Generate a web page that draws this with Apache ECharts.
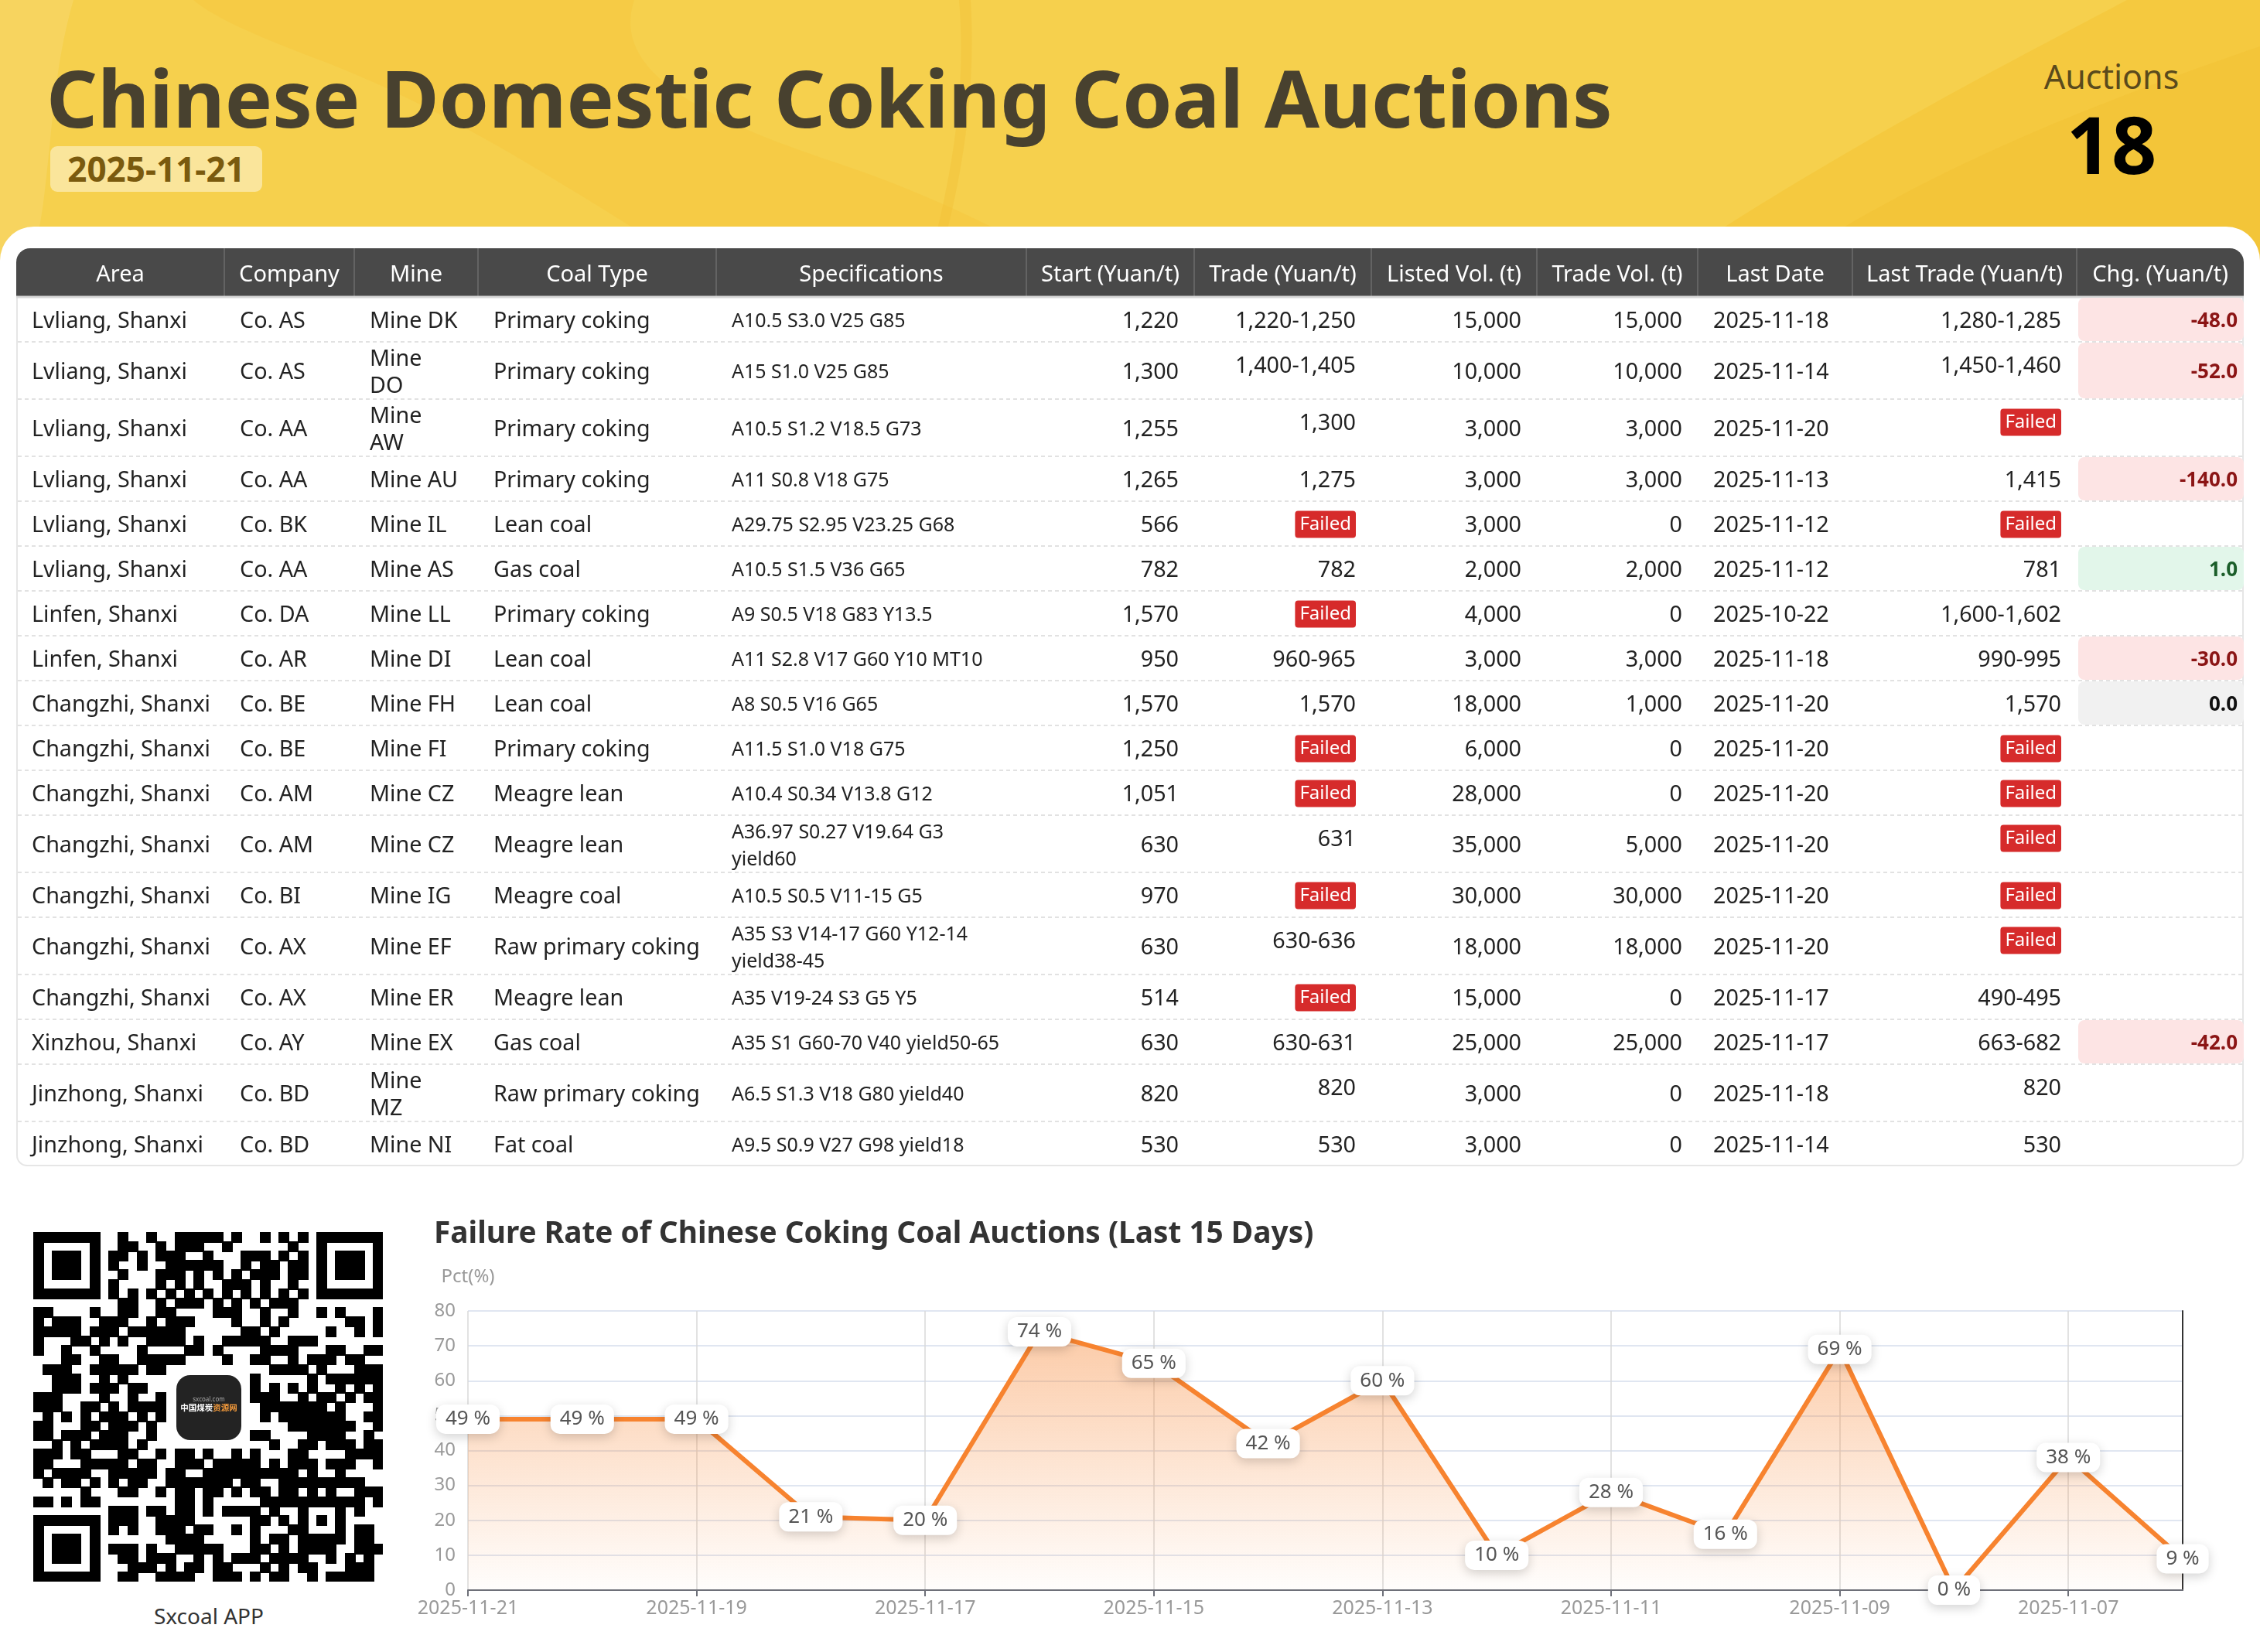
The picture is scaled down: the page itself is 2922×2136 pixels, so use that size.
<!DOCTYPE html>
<html>
<head>
<meta charset="utf-8">
<script src="https://cdn.jsdelivr.net/npm/echarts@6/dist/echarts.min.js"></script>
<style>
html,body{margin:0;padding:0;background:#fff;}
#page{position:relative;width:2922px;height:2136px;overflow:hidden;background:#fff;font-family:'Noto Sans','Noto Sans CJK SC',sans-serif;}
#hdr{position:absolute;left:0;top:0;width:2922px;height:345px;background:#F5C93F;overflow:hidden;}
#hdr svg{position:absolute;left:0;top:0;}
#card{position:absolute;left:0;top:293px;width:2922px;height:1843px;background:#fff;border-radius:44px 44px 0 0;}
#title{position:absolute;left:60px;top:74px;font-size:103px;font-weight:700;color:#48412F;line-height:103px;white-space:nowrap;}
#date{position:absolute;left:65px;top:189px;width:274px;height:59px;border-radius:9px;background:#FAE59B;color:#7A5A0E;font-size:44px;font-weight:700;line-height:59px;text-align:center;}
#auc{position:absolute;left:2580px;width:300px;top:77px;text-align:center;font-size:43px;color:#5A4A1C;line-height:43px;}
#cnt{position:absolute;left:2580px;width:300px;top:135px;text-align:center;font-size:102px;font-weight:700;color:#000;line-height:102px;}
#frame{position:absolute;left:21px;top:321px;width:2880px;height:1187px;box-sizing:border-box;border:2px solid #e6e6e6;border-radius:20px 20px 14px 14px;}
#qr{position:absolute;left:43px;top:1593px;}
#logo{position:absolute;left:228px;top:1778px;width:84px;height:84px;border-radius:18px;background:#232323;color:#fff;text-align:center;}
#logo .s{position:absolute;left:0;width:84px;top:26px;font-size:8px;line-height:9px;color:#aaa;}
#logo .t{position:absolute;left:0;width:84px;top:36px;font-size:10.5px;line-height:12px;font-weight:700;white-space:nowrap;font-family:'Noto Sans CJK SC',sans-serif;}
#cap{position:absolute;left:120px;width:300px;top:2075px;text-align:center;font-size:28px;line-height:28px;color:#333;}
#chart{position:absolute;left:0;top:0;width:2922px;height:2136px;}
</style>
</head>
<body>
<div id="page">
  <div id="hdr">
    <svg width="2922" height="345" viewBox="0 0 2922 345">
      <path d="M0,0 L2750,0 C2600,80 2400,180 2150,345 L0,345 Z" fill="#F6D04D"/>
      <path d="M0,0 L95,0 C60,120 70,230 40,345 L0,345 Z" fill="rgba(255,255,255,0.10)"/>
      <path d="M250,0 L820,0 C790,90 900,150 1080,210 C1200,250 1300,300 1380,345 L900,345 C760,260 600,150 420,80 C340,50 280,25 250,0 Z" fill="rgba(245,195,55,0.35)"/>
      <path d="M1240,0 C1250,120 1230,230 1200,345 L1212,345 C1245,230 1262,120 1255,0 Z" fill="rgba(240,190,50,0.35)"/>
      <path d="M2300,345 C2450,250 2600,170 2922,60 L2922,345 Z" fill="rgba(240,190,45,0.35)"/>
    </svg>
    <div id="title">Chinese Domestic Coking Coal Auctions</div>
    <div id="date">2025-11-21</div>
    <div id="auc">Auctions</div>
    <div id="cnt">18</div>
  </div>
  <div id="card"></div>
  <div id="frame"></div>
  <canvas id="qr" width="452" height="452"></canvas>
  <div id="logo"><div class="s">sxcoal.com</div><div class="t">中国煤炭<span style="color:#F39A3B">资源网</span></div></div>
  <div id="cap">Sxcoal APP</div>
  <div id="chart"></div>
</div>
<script>
// ---------------- DATA ----------------
const headers = ["Area","Company","Mine","Coal Type","Specifications","Start (Yuan/t)","Trade (Yuan/t)","Listed Vol. (t)","Trade Vol. (t)","Last Date","Last Trade (Yuan/t)","Chg. (Yuan/t)"];
const areas = ["Lvliang, Shanxi","Lvliang, Shanxi","Lvliang, Shanxi","Lvliang, Shanxi","Lvliang, Shanxi","Lvliang, Shanxi","Linfen, Shanxi","Linfen, Shanxi","Changzhi, Shanxi","Changzhi, Shanxi","Changzhi, Shanxi","Changzhi, Shanxi","Changzhi, Shanxi","Changzhi, Shanxi","Changzhi, Shanxi","Xinzhou, Shanxi","Jinzhong, Shanxi","Jinzhong, Shanxi"];
const companies = ["Co. AS","Co. AS","Co. AA","Co. AA","Co. BK","Co. AA","Co. DA","Co. AR","Co. BE","Co. BE","Co. AM","Co. AM","Co. BI","Co. AX","Co. AX","Co. AY","Co. BD","Co. BD"];
const mines = ["Mine DK","Mine DO","Mine AW","Mine AU","Mine IL","Mine AS","Mine LL","Mine DI","Mine FH","Mine FI","Mine CZ","Mine CZ","Mine IG","Mine EF","Mine ER","Mine EX","Mine MZ","Mine NI"];
const coalTypes = ["Primary coking","Primary coking","Primary coking","Primary coking","Lean coal","Gas coal","Primary coking","Lean coal","Lean coal","Primary coking","Meagre lean","Meagre lean","Meagre coal","Raw primary coking","Meagre lean","Gas coal","Raw primary coking","Fat coal"];
const specs = ["A10.5 S3.0 V25 G85","A15 S1.0 V25 G85","A10.5 S1.2 V18.5 G73","A11 S0.8 V18 G75","A29.75 S2.95 V23.25 G68","A10.5 S1.5 V36 G65","A9 S0.5 V18 G83 Y13.5","A11 S2.8 V17 G60 Y10 MT10","A8 S0.5 V16 G65","A11.5 S1.0 V18 G75","A10.4 S0.34 V13.8 G12","A36.97 S0.27 V19.64 G3 yield60","A10.5 S0.5 V11-15 G5","A35 S3 V14-17 G60 Y12-14 yield38-45","A35 V19-24 S3 G5 Y5","A35 S1 G60-70 V40 yield50-65","A6.5 S1.3 V18 G80 yield40","A9.5 S0.9 V27 G98 yield18"];
const startPrices = [1220,1300,1255,1265,566,782,1570,950,1570,1250,1051,630,970,630,514,630,820,530];
const tradePrices = ["1,220-1,250","1,400-1,405","1,300","1,275","Failed","782","Failed","960-965","1,570","Failed","Failed","631","Failed","630-636","Failed","630-631","820","530"];
const listedVols = [15000,10000,3000,3000,3000,2000,4000,3000,18000,6000,28000,35000,30000,18000,15000,25000,3000,3000];
const tradeVols = [15000,10000,3000,3000,0,2000,0,3000,1000,0,0,5000,30000,18000,0,25000,0,0];
const lastDates = ["2025-11-18","2025-11-14","2025-11-20","2025-11-13","2025-11-12","2025-11-12","2025-10-22","2025-11-18","2025-11-20","2025-11-20","2025-11-20","2025-11-20","2025-11-20","2025-11-20","2025-11-17","2025-11-17","2025-11-18","2025-11-14"];
const lastTrades = ["1,280-1,285","1,450-1,460","Failed","1,415","Failed","781","1,600-1,602","990-995","1,570","Failed","Failed","Failed","Failed","Failed","490-495","663-682","820","530"];
const changes = [-48,-52,null,-140,null,1,null,-30,0,null,null,null,null,null,null,-42,null,null];

const failDates = ["2025-11-21","2025-11-20","2025-11-19","2025-11-18","2025-11-17","2025-11-16","2025-11-15","2025-11-14","2025-11-13","2025-11-12","2025-11-11","2025-11-10","2025-11-09","2025-11-08","2025-11-07","2025-11-06"];
const failRates = [49,49,49,21,20,74,65,42,60,10,28,16,69,0,38,9];

// ---------------- LAYOUT ----------------
const FONT = "'Noto Sans','Noto Sans CJK SC',sans-serif";
const colWidths = [269,168,160,308,401,217,229,214,208,200,290,216];
const colAlign = ['left','left','left','left','left','right','right','right','right','left','right','right'];
const colEdges = [0]; colWidths.forEach(w => colEdges.push(colEdges[colEdges.length-1] + w));
const TABLE_W = colEdges[colEdges.length-1];
const HEADER_H = 63, ROW_H = 58, TALL_H = 74;
const tallRows = new Set([1,2,11,13,16]);
const mineWrapRows = new Set([1,2,16]);
const specWrapRows = new Set([11,13]);
const liftCols = new Set([6,10]);
const BODY_FS = 28.7, HEAD_FS = 29, SPEC_FS = 25, DY = 3;

// word wrapping helper (layout only)
const mctx = document.createElement('canvas').getContext('2d');
function wrapWords(str, fontSize, maxW) {
  mctx.font = fontSize + 'px ' + FONT;
  const words = str.split(' ');
  const lines = []; let cur = '';
  words.forEach(w => {
    const t = cur ? cur + ' ' + w : w;
    if (cur && mctx.measureText(t).width > maxW) { lines.push(cur); cur = w; } else { cur = t; }
  });
  if (cur) lines.push(cur);
  return lines.join('\n');
}

const fmt = v => v.toLocaleString('en-US');
const tableData = [[-1, 0, HEADER_H]];
let acc = HEADER_H;
areas.forEach((_, i) => { const h = tallRows.has(i) ? TALL_H : ROW_H; tableData.push([i, acc, acc + h]); acc += h; });
const TABLE_H = acc;

function txt(x, y, s, o) {
  return { type: 'text', x: x, y: y + DY, style: Object.assign({
    text: s, fill: '#222', fontSize: BODY_FS, fontFamily: FONT,
    align: 'left', textAlign: 'left', verticalAlign: 'middle', textVerticalAlign: 'middle'
  }, o || {}) };
}
function failedBadge(x, y) {
  return txt(x, y - 2, 'Failed', { fill: '#fff', fontSize: 24, lineHeight: 25, backgroundColor: '#D62B2B',
    padding: [5, 6, 5, 6], borderRadius: 4, align: 'right', textAlign: 'right' });
}

function renderTable(params, api) {
  const ri = api.value(0);
  const yTop = api.coord([0, api.value(1)])[1];
  const yBot = api.coord([0, api.value(2)])[1];
  const cy = (yTop + yBot) / 2;
  const xs = colEdges.map(e => api.coord([e, 0])[0]);
  const n = colWidths.length;
  const ch = [];
  if (ri < 0) {
    for (let c = 0; c < n; c++) {
      const r = c === 0 ? [18, 0, 0, 0] : (c === n - 1 ? [0, 18, 0, 0] : 0);
      ch.push({ type: 'rect', shape: { x: xs[c], y: yTop, width: xs[c+1] - xs[c], height: yBot - yTop, r: r }, style: { fill: '#494949' } });
      if (c > 0) ch.push({ type: 'line', shape: { x1: xs[c], y1: yTop, x2: xs[c], y2: yBot }, style: { stroke: '#6c6c6c', lineWidth: 1.5 } });
      ch.push(txt((xs[c] + xs[c+1]) / 2, cy, headers[c], { fill: '#fff', fontSize: HEAD_FS, align: 'center', textAlign: 'center' }));
    }
    ch.push({ type: 'line', shape: { x1: xs[0], y1: yBot, x2: xs[n], y2: yBot }, style: { stroke: '#d8d8d8', lineWidth: 3 } });
    return { type: 'group', children: ch };
  }
  const tall = tallRows.has(ri);
  const cells = [areas[ri], companies[ri], mines[ri], coalTypes[ri], specs[ri], fmt(startPrices[ri]), tradePrices[ri],
    fmt(listedVols[ri]), fmt(tradeVols[ri]), lastDates[ri], lastTrades[ri], changes[ri]];
  for (let c = 0; c < n; c++) {
    let v = cells[c];
    const al = colAlign[c];
    const y = (tall && liftCols.has(c)) ? cy - 8 : cy;
    if (c === n - 1) {
      if (v === null || v === undefined) continue;
      const bg = v < 0 ? '#FDE4E4' : (v > 0 ? '#E2F6EA' : '#F1F1F1');
      const fg = v < 0 ? '#8B1515' : (v > 0 ? '#1B5E2A' : '#111');
      ch.push({ type: 'rect', shape: { x: xs[c] + 2, y: yTop + 1, width: xs[c+1] - xs[c] - 2, height: yBot - yTop - 2, r: 8 }, style: { fill: bg } });
      ch.push(txt(xs[c+1] - 8, cy, v.toFixed(1), { fill: fg, fontSize: 26, fontWeight: 'bold', align: 'right', textAlign: 'right' }));
      continue;
    }
    if (v === 'Failed') { ch.push(failedBadge(xs[c+1] - 20, y)); continue; }
    const x = al === 'right' ? xs[c+1] - 20 : xs[c] + 20;
    const o = { align: al, textAlign: al };
    if (c === 4) { o.fontSize = SPEC_FS; }
    if (c === 2 && mineWrapRows.has(ri)) { v = wrapWords(v, BODY_FS, 80); o.lineHeight = 35; }
    if (c === 4 && specWrapRows.has(ri)) { v = wrapWords(v, SPEC_FS, 345); o.lineHeight = 35; }
    ch.push(txt(x, y, String(v), o));
  }
  if (ri < areas.length - 1) {
    ch.push({ type: 'line', shape: { x1: xs[0] + 2, y1: yBot, x2: xs[n] - 2, y2: yBot }, style: { stroke: '#e2e2e2', lineWidth: 2, lineDash: [5, 4] } });
  }
  return { type: 'group', children: ch };
}

// ---------------- QR (decorative) ----------------
(function drawQR() {
  const cv = document.getElementById('qr'); const ctx = cv.getContext('2d');
  const N = 37, S = 452 / N;
  const M = []; const R = [];
  for (let r = 0; r < N; r++) { M.push(new Array(N).fill(0)); R.push(new Array(N).fill(0)); }
  function finder(r0, c0) {
    for (let r = -1; r <= 7; r++) for (let c = -1; c <= 7; c++) {
      const rr = r0 + r, cc = c0 + c; if (rr < 0 || cc < 0 || rr >= N || cc >= N) continue;
      R[rr][cc] = 1;
      const on = (r >= 0 && r <= 6 && c >= 0 && c <= 6) && (r === 0 || r === 6 || c === 0 || c === 6 || (r >= 2 && r <= 4 && c >= 2 && c <= 4));
      M[rr][cc] = on ? 1 : 0;
    }
  }
  finder(0, 0); finder(0, N - 7); finder(N - 7, 0);
  for (let r = 28; r <= 32; r++) for (let c = 28; c <= 32; c++) { R[r][c] = 1; M[r][c] = (r === 28 || r === 32 || c === 28 || c === 32 || (r === 30 && c === 30)) ? 1 : 0; }
  for (let i = 8; i < N - 8; i++) { R[6][i] = 1; M[6][i] = i % 2 === 0 ? 1 : 0; R[i][6] = 1; M[i][6] = i % 2 === 0 ? 1 : 0; }
  function hb(r, c) { let x = Math.imul(r + 11, 374761393) ^ Math.imul(c + 7, 668265263); x = Math.imul(x ^ (x >>> 13), 1274126177); x ^= x >>> 16; return (x >>> 3) % 100 < 52 ? 1 : 0; }
  for (let r = 0; r < N; r++) for (let c = 0; c < N; c++) {
    if (R[r][c]) continue;
    if (r >= 14 && r <= 22 && c >= 14 && c <= 22) { M[r][c] = 0; continue; }
    M[r][c] = hb(r, c);
  }
  ctx.fillStyle = '#fff'; ctx.fillRect(0, 0, 452, 452); ctx.fillStyle = '#000';
  for (let r = 0; r < N; r++) for (let c = 0; c < N; c++) if (M[r][c]) ctx.fillRect(Math.floor(c * S), Math.floor(r * S), Math.ceil(S) + 1, Math.ceil(S) + 1);
})();

// ---------------- CHART ----------------
const chart = echarts.init(document.getElementById('chart'), null, { renderer: 'canvas', width: 2922, height: 2136 });
const axisGray = '#999';
chart.setOption({
  animation: false,
  backgroundColor: 'transparent',
  textStyle: { fontFamily: FONT },
  title: {
    text: 'Failure Rate of Chinese Coking Coal Auctions (Last 15 Days)',
    left: 561, top: 1577, padding: 0,
    textStyle: { fontSize: 38.8, fontWeight: 'bold', color: '#333', fontFamily: FONT }
  },
  grid: [
    { left: 21, top: 321, width: TABLE_W, height: TABLE_H, containLabel: false, outerBoundsMode: 'none' },
    { left: 605, top: 1695, right: 100, bottom: 80, containLabel: false, outerBoundsMode: 'none' }
  ],
  xAxis: [
    { gridIndex: 0, type: 'value', min: 0, max: TABLE_W, show: false },
    { gridIndex: 1, type: 'category', data: failDates, boundaryGap: false,
      axisLine: { show: true, lineStyle: { color: '#6E7079', width: 2 } },
      axisTick: { show: true, interval: 1, length: 8, lineStyle: { color: '#6E7079', width: 2 } },
      axisLabel: { interval: 1, color: axisGray, fontSize: 25, margin: 11, fontFamily: FONT },
      splitLine: { show: true, interval: 1, lineStyle: { color: '#d9d9d9', width: 1.5 } } }
  ],
  yAxis: [
    { gridIndex: 0, type: 'value', min: 0, max: TABLE_H, inverse: true, show: false },
    { gridIndex: 1, type: 'value', min: 0, max: 80, interval: 10, name: 'Pct(%)', nameLocation: 'end', nameGap: 32,
      nameTextStyle: { color: axisGray, fontSize: 24, fontFamily: FONT },
      axisLine: { show: false }, axisTick: { show: false },
      axisLabel: { color: axisGray, fontSize: 24, margin: 16, fontFamily: FONT },
      splitLine: { show: true, lineStyle: { color: '#E0E6F1', width: 2 } } },
    { gridIndex: 1, type: 'value', min: 0, max: 80, interval: 10, position: 'right',
      axisLine: { show: true, lineStyle: { color: '#333', width: 2 } }, axisTick: { show: false },
      axisLabel: { show: false }, splitLine: { show: false } }
  ],
  series: [
    { type: 'custom', xAxisIndex: 0, yAxisIndex: 0, data: tableData, renderItem: renderTable, clip: false, silent: true, z: 2 },
    { type: 'line', xAxisIndex: 1, yAxisIndex: 1, data: failRates, clip: false, silent: true,
      symbol: 'circle', symbolSize: 8, showSymbol: true,
      itemStyle: { color: '#F7832F' },
      lineStyle: { color: '#F7832F', width: 6 },
      areaStyle: { color: new echarts.graphic.LinearGradient(0, 0, 0, 1, [
        { offset: 0, color: 'rgba(247,131,47,0.6)' }, { offset: 1, color: 'rgba(247,131,47,0.02)' }]) },
      label: { show: true, position: 'inside', formatter: '{c} %', color: '#555', fontSize: 26, fontFamily: FONT,
        backgroundColor: '#fff', borderRadius: 12, padding: [6, 12], shadowBlur: 14, shadowColor: 'rgba(0,0,0,0.18)', shadowOffsetY: 4 },
      emphasis: { disabled: true }, z: 3 }
  ]
});
</script>
</body>
</html>
